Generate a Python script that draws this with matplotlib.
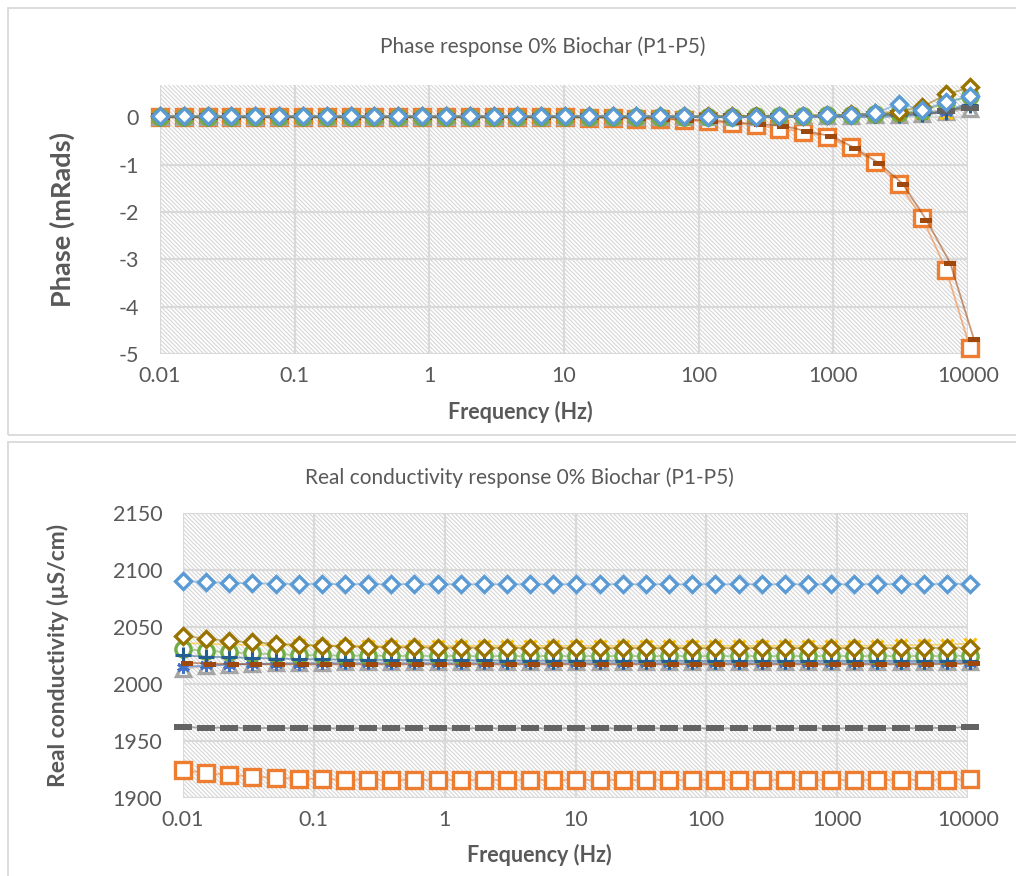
import matplotlib
matplotlib.use("Agg")
import matplotlib.pyplot as plt
from matplotlib.patches import Rectangle
from matplotlib.ticker import FixedLocator, FixedFormatter, NullLocator

plt.rcParams['font.family'] = ['Lato', 'DejaVu Sans']
plt.rcParams['hatch.color'] = '#d6d6d6'
plt.rcParams['hatch.linewidth'] = 0.8

# measurement frequencies (Hz)
freq = [0.01, 0.01503, 0.02259, 0.03395, 0.05102, 0.07668, 0.1153, 0.1732, 0.2603,
        0.3912, 0.588, 0.8837, 1.328, 1.996, 3.0, 4.508, 6.776, 10.17, 15.29, 22.98,
        34.54, 51.91, 78.01, 117.3, 176.2, 264.8, 398.0, 598.2, 899.0, 1351, 2031,
        3052, 4587, 6893, 10350]
# P8 was logged on a slightly shifted frequency grid
freq_p8 = [0.0107, 0.01608, 0.02417, 0.03633, 0.05459, 0.08205, 0.1233, 0.1853, 0.2785,
           0.4186, 0.6292, 0.9455, 1.421, 2.136, 3.21, 4.824, 7.25, 10.89, 16.36, 24.59,
           36.96, 55.54, 83.47, 125.5, 188.5, 283.4, 425.9, 640.0, 961.9, 1446, 2173,
           3265, 4908, 7376, 11075]

# phase (mrad)
phase_1 = [0.02, 0.02, 0.02, 0.02, 0.02, 0.02, 0.02, 0.02, 0.02, 0.02, 0.02, 0.02, 0.02, 0.02,
           0.02, 0.02, 0.02, 0.02, 0.02, 0.02, 0.02, 0.02, 0.02, 0.01, 0.01, 0.01, 0.03, 0.02,
           0.04, 0.04, 0.08, 0.28, 0.16, 0.32, 0.44]
phase_2 = [0.0, 0.0, 0.0, 0.0, 0.0, 0.0, 0.0, 0.0, 0.0, 0.0, 0.0, 0.0, 0.0, 0.0,
           0.0, 0.0, 0.0, 0.0, -0.01, -0.02, -0.03, -0.04, -0.06, -0.09, -0.13, -0.17, -0.24, -0.31,
           -0.42, -0.63, -0.95, -1.40, -2.13, -3.22, -4.87]
phase_3 = [0.0, 0.0, 0.0, 0.0, 0.0, 0.0, 0.0, 0.0, 0.0, 0.0, 0.0, 0.0, 0.0, 0.0,
           0.0, 0.0, 0.0, 0.0, 0.0, 0.0, 0.0, 0.0, 0.0, 0.0, 0.01, 0.01, 0.01, 0.02,
           0.02, 0.03, 0.04, 0.05, 0.06, 0.10, 0.18]
phase_4 = [0.02, 0.02, 0.02, 0.02, 0.02, 0.02, 0.02, 0.02, 0.02, 0.02, 0.02, 0.02, 0.02, 0.02,
           0.02, 0.02, 0.02, 0.02, 0.02, 0.02, 0.02, 0.02, 0.02, 0.02, 0.03, 0.03, 0.03, 0.04,
           0.04, 0.05, 0.05, 0.06, 0.08, 0.09, 0.28]
phase_5 = [0.0, 0.0, 0.0, 0.0, 0.0, 0.0, 0.0, 0.0, 0.0, 0.0, 0.0, 0.0, 0.0, 0.0,
           0.0, 0.0, 0.0, 0.0, 0.0, 0.0, 0.0, 0.0, 0.0, 0.0, 0.0, 0.0, 0.0, 0.0,
           0.0, 0.0, 0.0, 0.02, 0.05, 0.12, 0.32]
phase_6 = [0.0, 0.0, 0.0, 0.0, 0.0, 0.0, 0.0, 0.0, 0.0, 0.0, 0.0, 0.0, 0.0, 0.0,
           0.0, 0.0, 0.0, 0.0, 0.0, 0.0, 0.0, 0.0, 0.01, 0.01, 0.01, 0.02, 0.02, 0.03,
           0.04, 0.05, 0.06, 0.08, 0.14, 0.30, 0.45]
phase_7 = [0.01, 0.01, 0.01, 0.01, 0.01, 0.01, 0.01, 0.01, 0.01, 0.01, 0.01, 0.01, 0.01, 0.01,
           0.01, 0.01, 0.01, 0.01, 0.01, 0.01, 0.01, 0.01, 0.01, 0.01, 0.01, 0.01, 0.01, 0.02,
           0.02, 0.03, 0.04, 0.05, 0.07, 0.12, 0.26]
phase_8 = [0.0, 0.0, 0.0, 0.0, 0.0, 0.0, 0.0, 0.0, 0.0, 0.0, 0.0, 0.0, 0.0, 0.0,
           0.0, 0.0, 0.0, 0.0, 0.0, 0.0, -0.02, -0.03, -0.05, -0.07, -0.11, -0.15, -0.18, -0.30,
           -0.40, -0.65, -0.97, -1.40, -2.17, -3.08, -4.69]
phase_9 = [0.02, 0.02, 0.02, 0.02, 0.02, 0.02, 0.02, 0.02, 0.02, 0.02, 0.02, 0.02, 0.02, 0.02,
           0.02, 0.02, 0.02, 0.02, 0.02, 0.02, 0.02, 0.02, 0.02, 0.02, 0.02, 0.03, 0.03, 0.03,
           0.04, 0.05, 0.06, 0.08, 0.10, 0.14, 0.20]
phase_10 = [0.02, 0.02, 0.02, 0.02, 0.02, 0.02, 0.02, 0.02, 0.02, 0.02, 0.02, 0.02, 0.02, 0.02,
            0.02, 0.02, 0.02, 0.02, 0.02, 0.02, 0.02, 0.02, 0.02, 0.02, 0.02, 0.02, 0.03, 0.03,
            0.04, 0.06, 0.08, 0.12, 0.22, 0.48, 0.63]

# real conductivity (uS/cm)
cond_1 = [2090.4, 2089.4, 2088.7, 2088.3, 2088.0, 2087.8, 2087.7, 2087.7, 2087.6, 2087.6,
          2087.6, 2087.5, 2087.5, 2087.5, 2087.5, 2087.5, 2087.5, 2087.5, 2087.5, 2087.5,
          2087.5, 2087.5, 2087.5, 2087.5, 2087.5, 2087.5, 2087.5, 2087.5, 2087.5, 2087.5,
          2087.6, 2087.6, 2087.7, 2087.8, 2088.0]
cond_2 = [1924.6, 1921.8, 1920.2, 1918.8, 1917.7, 1917.0, 1916.5, 1916.2, 1916.0, 1915.9,
          1915.8, 1915.8, 1915.8, 1915.8, 1915.8, 1915.8, 1915.8, 1915.8, 1915.8, 1915.8,
          1915.8, 1915.8, 1915.8, 1915.8, 1915.8, 1915.8, 1915.8, 1915.8, 1915.8, 1915.8,
          1915.8, 1915.9, 1916.0, 1916.1, 1916.4]
cond_3 = [2013.5, 2015.5, 2017.0, 2017.8, 2018.3, 2018.6, 2018.8, 2019.0, 2019.0, 2019.0,
          2019.0, 2019.0, 2019.0, 2019.0, 2019.0, 2019.0, 2019.0, 2019.0, 2019.0, 2019.0,
          2019.0, 2019.0, 2019.0, 2019.0, 2019.0, 2019.0, 2019.0, 2019.0, 2019.0, 2019.0,
          2019.0, 2019.1, 2019.2, 2019.3, 2019.5]
cond_4 = [2036.0, 2035.2, 2034.6, 2034.2, 2034.0, 2033.8, 2033.7, 2033.6, 2033.5, 2033.5,
          2033.5, 2033.5, 2033.5, 2033.5, 2033.5, 2033.5, 2033.5, 2033.5, 2033.5, 2033.5,
          2033.5, 2033.5, 2033.5, 2033.5, 2033.5, 2033.5, 2033.5, 2033.5, 2033.5, 2033.6,
          2033.7, 2033.9, 2034.2, 2034.6, 2035.5]
cond_5 = [2015.0, 2016.3, 2017.0, 2017.4, 2017.7, 2017.9, 2018.0, 2018.0, 2018.0, 2018.0,
          2018.0, 2018.0, 2018.0, 2018.0, 2018.0, 2018.0, 2018.0, 2018.0, 2018.0, 2018.0,
          2018.0, 2018.0, 2018.0, 2018.0, 2018.0, 2018.0, 2018.0, 2018.0, 2018.0, 2018.0,
          2018.0, 2018.0, 2018.1, 2018.2, 2018.4]
cond_6 = [2030.4, 2029.2, 2027.8, 2026.9, 2026.1, 2025.5, 2025.1, 2024.9, 2024.8, 2024.7,
          2024.6, 2024.6, 2024.5, 2024.5, 2024.5, 2024.5, 2024.5, 2024.5, 2024.5, 2024.5,
          2024.5, 2024.5, 2024.5, 2024.5, 2024.5, 2024.5, 2024.5, 2024.5, 2024.5, 2024.5,
          2024.5, 2024.5, 2024.5, 2024.6, 2024.8]
cond_7 = [2025.0, 2024.0, 2023.4, 2022.9, 2022.3, 2021.9, 2021.6, 2021.4, 2021.2, 2021.1,
          2021.0, 2020.9, 2020.8, 2020.7, 2020.6, 2020.6, 2020.5, 2020.5, 2020.5, 2020.4,
          2020.4, 2020.4, 2020.3, 2020.3, 2020.3, 2020.3, 2020.3, 2020.3, 2020.3, 2020.3,
          2020.3, 2020.3, 2020.3, 2020.4, 2020.5]
cond_8 = [2018.7, 2017.9, 2017.5, 2017.3, 2017.2, 2017.2, 2017.2, 2017.2, 2017.2, 2017.2,
          2017.2, 2017.2, 2017.2, 2017.2, 2017.2, 2017.2, 2017.2, 2017.2, 2017.2, 2017.2,
          2017.2, 2017.2, 2017.2, 2017.2, 2017.2, 2017.2, 2017.2, 2017.2, 2017.2, 2017.2,
          2017.2, 2017.2, 2017.3, 2017.5, 2018.0]
cond_9 = [1962.0, 1961.8, 1961.6, 1961.4, 1961.3, 1961.2, 1961.1, 1961.1, 1961.1, 1961.1,
          1961.1, 1961.1, 1961.1, 1961.1, 1961.1, 1961.1, 1961.1, 1961.1, 1961.1, 1961.1,
          1961.1, 1961.1, 1961.1, 1961.1, 1961.1, 1961.1, 1961.1, 1961.1, 1961.1, 1961.1,
          1961.1, 1961.2, 1961.3, 1961.6, 1962.2]
cond_10 = [2042.5, 2039.6, 2037.8, 2036.5, 2035.4, 2034.4, 2033.6, 2033.0, 2032.6, 2032.3,
           2032.1, 2032.0, 2031.9, 2031.8, 2031.7, 2031.6, 2031.6, 2031.5, 2031.5, 2031.5,
           2031.5, 2031.5, 2031.5, 2031.5, 2031.5, 2031.5, 2031.5, 2031.5, 2031.5, 2031.5,
           2031.5, 2031.5, 2031.6, 2031.8, 2032.0]

# Excel-style series styles: colour, marker, marker size, hollow?
dash_short = [(-1, -0.45), (1, -0.45), (1, 0.45), (-1, 0.45), (-1, -0.45)]
dash_long = [(-1, -0.3), (1, -0.3), (1, 0.3), (-1, 0.3), (-1, -0.3)]
styles = [
    ('#5B9BD5', 'D', 8.5, True),
    ('#ED7D31', 's', 11.0, True),
    ('#A5A5A5', '^', 10.0, True),
    ('#FFC000', 'x', 9.0, False),
    ('#4472C4', (6, 2, 0), 9.0, False),
    ('#70AD47', 'o', 11.0, True),
    ('#255E91', '+', 11.0, False),
    ('#9E480E', dash_short, 8.0, False),
    ('#636363', dash_long, 13.0, False),
    ('#997300', 'D', 8.5, True),
]

phase = [phase_1, phase_2, phase_3, phase_4, phase_5, phase_6, phase_7, phase_8, phase_9, phase_10]
cond = [cond_1, cond_2, cond_3, cond_4, cond_5, cond_6, cond_7, cond_8, cond_9, cond_10]
xgrid = [freq, freq, freq, freq, freq, freq, freq, freq_p8, freq, freq]

text_col = '#595959'
grid_col = '#d9d9d9'
decades = [0.01, 0.1, 1, 10, 100, 1000, 10000]
decade_labels = ['0.01', '0.1', '1', '10', '100', '1000', '10000']

W, H = 1016, 876
fig = plt.figure(figsize=(W / 100, H / 100), dpi=100)

# chart frames
fig.patches.append(Rectangle((8 / W, 1 - 435 / H), 1.2, 427 / H, transform=fig.transFigure,
                             fill=False, edgecolor=grid_col, linewidth=1.3))
fig.patches.append(Rectangle((8 / W, -0.1), 1.2, 0.1 + 434 / H, transform=fig.transFigure,
                             fill=False, edgecolor=grid_col, linewidth=1.3))


def style_axes(ax, yticks, ylim, ylabel, ylabel_size, ylabel_x, title, title_x, title_y,
               xlabel_x, xlabel_y):
    ax.set_xscale('log')
    ax.set_xlim(0.01, 10000)
    ax.set_ylim(*ylim)
    ax.xaxis.set_major_locator(FixedLocator(decades))
    ax.xaxis.set_major_formatter(FixedFormatter(decade_labels))
    ax.xaxis.set_minor_locator(NullLocator())
    ax.set_yticks(yticks)
    ax.set_yticklabels([str(t) for t in yticks])
    ax.tick_params(axis='x', length=0, labelsize=15.5, labelcolor=text_col, pad=9)
    ax.tick_params(axis='y', length=0, labelsize=15.5, labelcolor=text_col, pad=15)
    ax.grid(True, color=grid_col, linewidth=1.6)
    ax.set_axisbelow(True)
    for sp in ax.spines.values():
        sp.set_visible(False)
    ax.patch.set_facecolor('white')
    ax.patch.set_hatch('\\' * 8)
    ax.patch.set_edgecolor('#d6d6d6')
    ax.patch.set_linewidth(0)

    # axis titles sit at fixed pixel positions (centre of the text)
    ax.set_xlabel('Frequency (Hz)', fontsize=15.5, fontweight='bold', color=text_col)
    ax.xaxis.set_label_coords(xlabel_x / W, 1 - xlabel_y / H, transform=fig.transFigure)
    ax.xaxis.label.set_va('center')
    ax.set_ylabel(ylabel, fontsize=ylabel_size, fontweight='bold', color=text_col)
    pos = ax.get_position()
    ax.yaxis.set_label_coords(ylabel_x / W, pos.y0 + pos.height / 2, transform=fig.transFigure)
    ax.yaxis.label.set_va('center')
    fig.text(title_x / W, 1 - title_y / H, title, ha='center', va='center', fontsize=15, color=text_col)


def draw_series(ax, values, top_first):
    for i, (vals, xs, (col, mk, ms, hollow)) in enumerate(zip(values, xgrid, styles)):
        z = 3 + i
        if top_first and i == 0:
            z = 20
        ax.plot(xs, vals, color=col, linewidth=1.3, alpha=0.55, zorder=z, clip_on=False)
        ax.plot(xs, vals, linestyle='none', marker=mk, markersize=ms,
                markerfacecolor='white' if hollow else col, markeredgecolor=col,
                markeredgewidth=2.4 if hollow else (2.2 if mk in ('x', '+') or isinstance(mk, tuple) else 0),
                zorder=z + 0.5, clip_on=False)


ax1 = fig.add_axes([160 / W, 1 - 354 / H, 808 / W, 269 / H])
style_axes(ax1, [0, -1, -2, -3, -4, -5], (-5, 0.68), 'Phase (mRads)', 19.5, 62,
           'Phase response 0% Biochar (P1-P5)', 543, 47, 520, 412)
draw_series(ax1, phase, True)

ax2 = fig.add_axes([183 / W, 1 - 798 / H, 785 / W, 285 / H])
style_axes(ax2, [1900, 1950, 2000, 2050, 2100, 2150], (1900, 2150), 'Real conductivity (µS/cm)', 16.5, 58,
           'Real conductivity response 0% Biochar (P1-P5)', 519, 478, 539, 855)
draw_series(ax2, cond, False)

fig.savefig('out.png', dpi=100)
